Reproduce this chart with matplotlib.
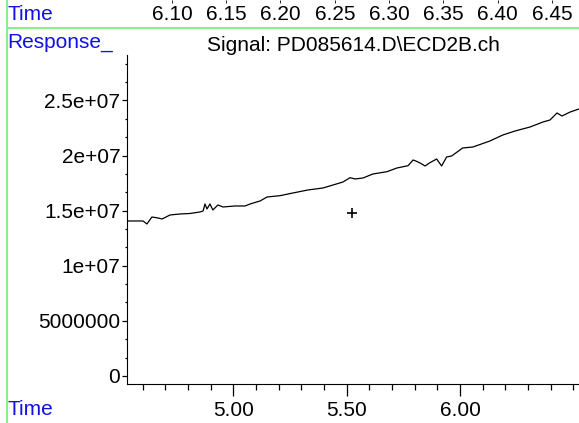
import matplotlib
matplotlib.use('Agg')
import matplotlib.pyplot as plt
from matplotlib.lines import Line2D
from matplotlib.ticker import MultipleLocator, AutoMinorLocator, FixedLocator

plt.rcParams['font.family'] = ['Liberation Sans', 'DejaVu Sans']

# signal trace (time in min, response)
time_min = [4.531, 4.602, 4.619, 4.641, 4.668, 4.686, 4.721, 4.765, 4.809, 4.853,
            4.867, 4.875, 4.884, 4.897, 4.910, 4.932, 4.955, 5.007, 5.052, 5.074,
            5.118, 5.149, 5.206, 5.263, 5.329, 5.396, 5.440, 5.484, 5.515, 5.537,
            5.572, 5.616, 5.678, 5.722, 5.771, 5.793, 5.805, 5.824, 5.846, 5.865,
            5.897, 5.919, 5.941, 5.963, 6.012, 6.057, 6.132, 6.189, 6.243, 6.309,
            6.366, 6.397, 6.428, 6.450, 6.486, 6.525]
response = [1.4065e7, 1.4065e7, 1.3793e7, 1.4428e7, 1.4338e7, 1.4247e7, 1.4610e7, 1.4700e7,
            1.4746e7, 1.4882e7, 1.4973e7, 1.5608e7, 1.5154e7, 1.5608e7, 1.5063e7, 1.5517e7,
            1.5336e7, 1.5426e7, 1.5426e7, 1.5608e7, 1.5880e7, 1.6243e7, 1.6361e7, 1.6606e7,
            1.6878e7, 1.7060e7, 1.7332e7, 1.7604e7, 1.7995e7, 1.7877e7, 1.7967e7, 1.8330e7,
            1.8539e7, 1.8875e7, 1.9084e7, 1.9600e7, 1.9510e7, 1.9328e7, 1.9056e7, 1.9328e7,
            1.9691e7, 1.9056e7, 1.9873e7, 1.9964e7, 2.0690e7, 2.0780e7, 2.1325e7, 2.1869e7,
            2.2232e7, 2.2595e7, 2.3049e7, 2.3230e7, 2.3866e7, 2.3593e7, 2.3956e7, 2.4229e7]

marker_t = [5.524]
marker_r = [1.479e7]

y_ticks = [0, 5e6, 1e7, 1.5e7, 2e7, 2.5e7]
y_labels = ['0', '5000000', '1e+07', '1.5e+07', '2e+07', '2.5e+07']
x_ticks = [5.0, 5.5, 6.0]
top_ticks = [6.10, 6.15, 6.20, 6.25, 6.30, 6.35, 6.40, 6.45]

fs = 15
blue = '#1010e8'
green = '#8ced8c'

fig = plt.figure(figsize=(5.79, 4.23), dpi=100)

ax = fig.add_axes([0.2193, 0.0922, 0.7807, 0.7778])
ax.plot(time_min, response, color='black', linewidth=0.9)
ax.plot(marker_t, marker_r, marker='+', color='black', markersize=7, markeredgewidth=1.2, linestyle='none')
ax.set_xlim(4.531, 6.525)
ax.set_ylim(-7.3e5, 2.913e7)
for s in ['top', 'right']:
    ax.spines[s].set_visible(False)
ax.set_yticks(y_ticks)
ax.set_yticklabels(y_labels)
ax.yaxis.set_minor_locator(AutoMinorLocator(3))
ax.set_xticks(x_ticks)
ax.set_xticklabels(['%.2f' % v for v in x_ticks])
ax.xaxis.set_minor_locator(MultipleLocator(0.1))
ax.tick_params(axis='x', which='major', length=8.5, width=0.9, pad=4, labelsize=fs)
ax.tick_params(axis='x', which='minor', length=4.3, width=0.9)
ax.tick_params(axis='y', which='major', length=3.3, width=0.9, pad=1.5, labelsize=fs)
ax.tick_params(axis='y', which='minor', length=1.8, width=0.9)
ax.set_title('Signal: PD085614.D\\ECD2B.ch', fontsize=fs, pad=1)

# top time axis
ax_top = fig.add_axes([0.2193, 1.0, 0.7807, 0.001])
ax_top.set_xlim(6.0586, 6.475)
for s in ax_top.spines.values():
    s.set_visible(False)
ax_top.set_yticks([])
ax_top.xaxis.set_major_locator(FixedLocator(top_ticks))
ax_top.set_xticklabels(['%.2f' % v for v in top_ticks])
ax_top.tick_params(axis='x', length=2, width=0.6, pad=1.5, labelsize=fs)
ax_top.patch.set_visible(False)

# frame lines and labels
fig.add_artist(Line2D([6.5 / 579, 6.5 / 579], [0, 1], color=green, linewidth=1.5))
fig.add_artist(Line2D([6.5 / 579, 1], [1 - 28 / 423, 1 - 28 / 423], color=green, linewidth=1.5))
fig.text(7 / 579, 1 - 14 / 423, 'Time', color=blue, fontsize=fs, va='center', ha='left')
fig.text(7 / 579, 1 - 42 / 423, 'Response_', color=blue, fontsize=fs, va='center', ha='left')
fig.text(7 / 579, 1 - 409 / 423, 'Time', color=blue, fontsize=fs, va='center', ha='left')

fig.savefig('out.png', dpi=100)
